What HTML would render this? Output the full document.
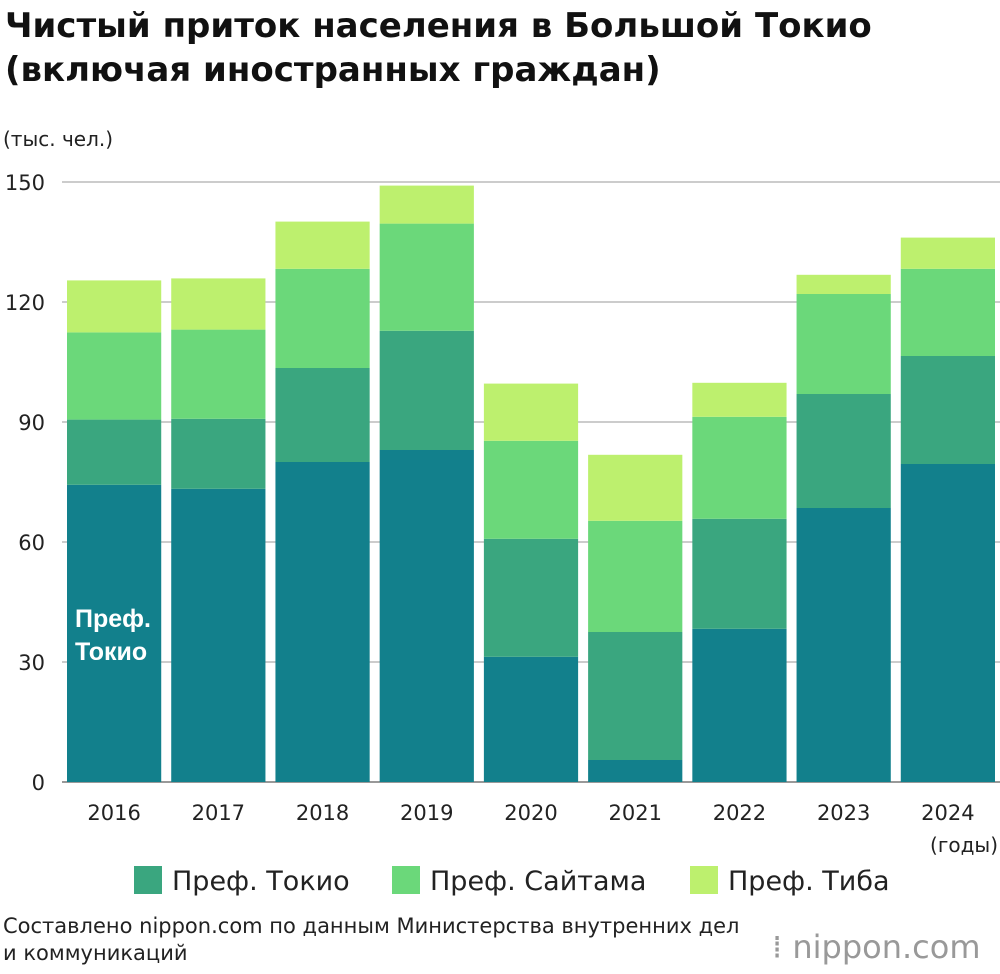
<!DOCTYPE html>
<html><head><meta charset="utf-8"><style>
body{margin:0;background:#fff;font-family:"DejaVu Sans","Liberation Sans",sans-serif;}
#wrap{position:relative;width:1000px;height:974px;overflow:hidden;}
.t{position:absolute;left:5px;font-weight:bold;font-size:34px;color:#111;line-height:44px;}
</style></head><body>
<div id="wrap">
<div class="t" style="top:4px">Чистый приток населения в Большой Токио<br>(включая иностранных граждан)</div>
<div style="position:absolute;left:3px;top:127px;font-size:20px;color:#222">(тыс. чел.)</div>
<svg id="svg" width="1000" height="974" style="position:absolute;left:0;top:0"></svg>
<div style="position:absolute;left:3px;top:913px;font-size:21px;color:#222;line-height:27px">Составлено nippon.com по данным Министерства внутренних дел<br>и коммуникаций</div>
<div style="position:absolute;left:772px;top:928px;font-size:32px;color:#999">⁞ nippon.com</div>
</div>
<script>
const years=["2016","2017","2018","2019","2020","2021","2022","2023","2024"];
const tokyo=[74.3,73.3,80,83,31.3,5.5,38.3,68.5,79.5];
const seg2=[16.3,17.5,23.5,29.8,29.5,32,27.5,28.5,27];
const saitama=[21.8,22.3,24.8,26.8,24.5,27.8,25.5,25,21.8];
const chiba=[13,12.8,11.8,9.5,14.3,16.5,8.5,4.8,7.8];
const ticks=[0,30,60,90,120,150];
const series=[tokyo,seg2,saitama,chiba];
const colors=["#12808c","#3aa67f","#6bd87a","#bdf06e"];
const names=["tokyo","seg2","saitama","chiba"];
const svg=document.getElementById('svg');const NS="http://www.w3.org/2000/svg";
const x0=62,x1=1000,y0=782,ppu=4;
const y=v=>y0-v*ppu;const bw=(x1-x0)/years.length;
function mk(tag,attrs){const e=document.createElementNS(NS,tag);for(const k in attrs)e.setAttribute(k,attrs[k]);svg.appendChild(e);return e;}
ticks.forEach(t=>{
 const l=mk('line',{x1:x0,x2:x1,y1:y(t),y2:y(t),stroke:t===0?'#999':'#ccc','stroke-width':2});
 
 
 const tx=mk('text',{x:45,y:y(t)+8,'text-anchor':'end','font-size':21,fill:'#222'});tx.textContent=t;
 
 
});
years.forEach((yr,i)=>{
 let base=0;const bx=x0+i*bw+5;
 series.forEach((s,j)=>{
  const r=mk('rect',{x:bx,y:y(base+s[i]),width:bw-10,height:s[i]*ppu,fill:colors[j]});
  
  
  base+=s[i];
 });
 const tx=mk('text',{x:bx+(bw-10)/2,y:820,'text-anchor':'middle','font-size':21,fill:'#222'});tx.textContent=yr;
 
 
});
const u=mk('text',{x:998,y:852,'text-anchor':'end','font-size':20,fill:'#222'});u.textContent='(годы)';


[['Преф.',627],['Токио',660]].forEach(([s,yy])=>{const t=mk('text',{x:75,y:yy,'font-size':25,'font-weight':'bold',fill:'#fff','font-family':'Liberation Sans'});t.textContent=s;
 
 });
const leg=[["Преф. Токио",134,colors[1]],["Преф. Сайтама",392,colors[2]],["Преф. Тиба",690,colors[3]]];
leg.forEach(([n,lx,c])=>{
 const r=mk('rect',{x:lx,y:866,width:28,height:28,fill:c});
 
 
 const t=mk('text',{x:lx+38,y:890,'font-size':27,fill:'#222'});t.textContent=n;
 
 
});
</script>
</body></html>
